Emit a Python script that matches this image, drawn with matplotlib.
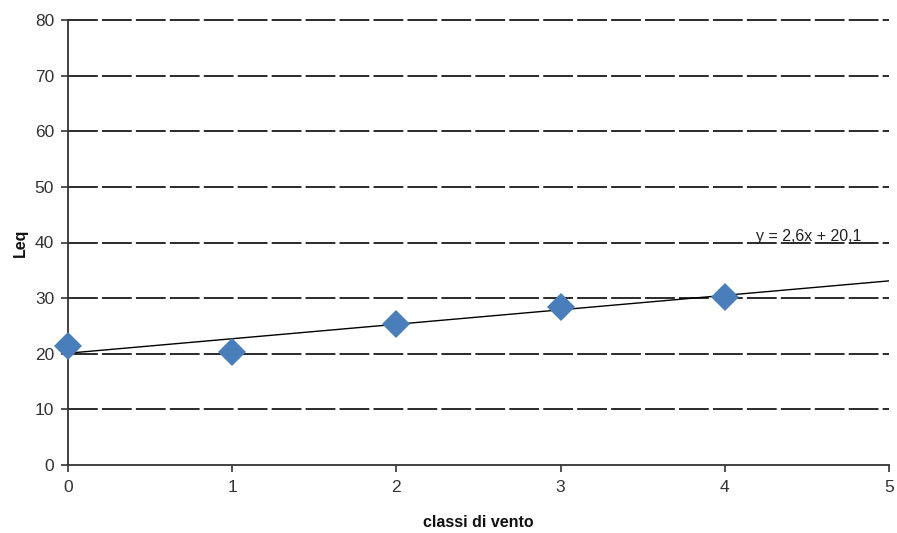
import matplotlib
matplotlib.use("Agg")
import matplotlib.pyplot as plt
import numpy as np

plt.rcParams['font.family'] = ['Liberation Sans', 'DejaVu Sans']

classes = [0, 1, 2, 3, 4]
leq = [21.4, 20.3, 25.3, 28.4, 30.2]
slope, intercept = 2.6, 20.1
x_ticks = [0, 1, 2, 3, 4, 5]
y_ticks = [0, 10, 20, 30, 40, 50, 60, 70, 80]

fig = plt.figure(figsize=(8.97, 5.33), dpi=100)
ax = fig.add_axes([68/897, 1 - 465/533, (889 - 68)/897, (465 - 20)/533])

ax.set_xlim(0, 5)
ax.set_ylim(0, 80)

for yv in y_ticks[1:]:
    ax.axhline(yv, color='#1a1a1a', lw=1.3, dashes=(16.5, 2.3), zorder=1, clip_on=False)

xs = np.array([0, 5])
ax.plot(xs, slope * xs + intercept, color='black', lw=1.0, zorder=2)
ax.plot(classes, leq, linestyle='none', marker='D', markersize=14,
        color='#4A7EBB', markeredgewidth=0, zorder=3, clip_on=False)

ax.text(4.83, 39.7, 'y = 2,6x + 20,1', ha='right', va='bottom', fontsize=11.5, color='#222222')

for s in ['top', 'right']:
    ax.spines[s].set_visible(False)
for s in ['left', 'bottom']:
    ax.spines[s].set_color('#333333')
    ax.spines[s].set_linewidth(1.3)

ax.set_xticks(x_ticks)
ax.set_yticks(y_ticks)
ax.tick_params(axis='both', direction='out', length=5, width=1.2, color='#333333',
               labelsize=12.5, labelcolor='#333333')
ax.tick_params(axis='y', pad=5)
ax.tick_params(axis='x', pad=6)

ax.set_xlabel('classi di vento', fontsize=11.5, fontweight='bold', labelpad=14, color='#111111')
ax.set_ylabel('Leq', fontsize=11.5, fontweight='bold', labelpad=5, color='#111111')

fig.savefig('out.png', dpi=100)
